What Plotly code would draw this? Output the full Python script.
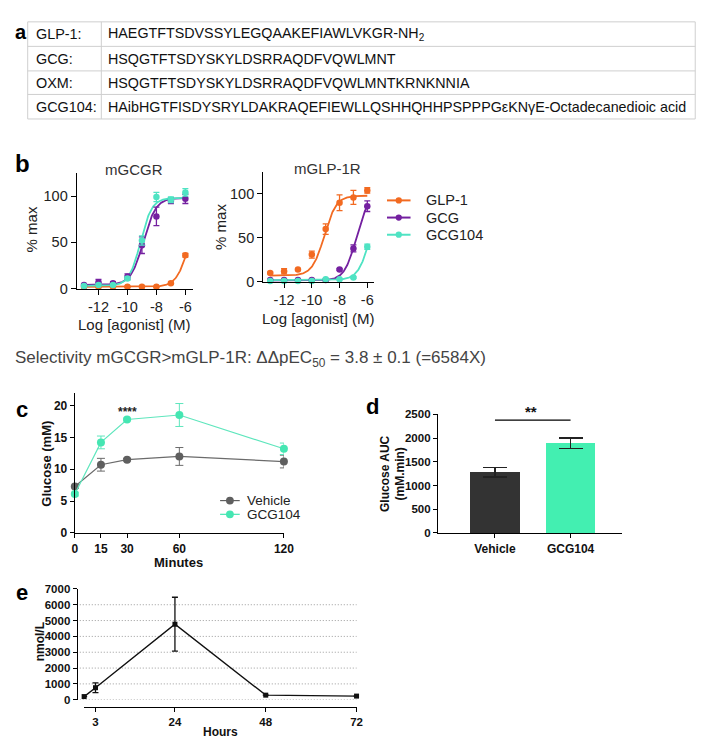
import numpy as np
import plotly.graph_objects as go

W, H = 709, 738
def px(x): return x / W
def py(y): return 1 - y / H

FONT = "Arial, Liberation Sans, sans-serif"

# ---------------- Panel a: peptide table ----------------
peptide_names = ["GLP-1:", "GCG:", "OXM:", "GCG104:"]
peptide_seqs = [
    "HAEGTFTSDVSSYLEGQAAKEFIAWLVKGR-NH<sub>2</sub>",
    "HSQGTFTSDYSKYLDSRRAQDFVQWLMNT",
    "HSQGTFTSDYSKYLDSRRAQDFVQWLMNTKRNKNNIA",
    "HAibHGTFISDYSRYLDAKRAQEFIEWLLQSHHQHHPSPPPGεKNγE-Octadecanedioic acid",
]

# ---------------- Panel b: concentration response ----------------
log_conc = [-13, -12, -11, -10, -9, -8, -7, -6]
b_series = ["GLP-1", "GCG", "GCG104"]
b_colors = ["#F26A21", "#7420A0", "#4FE3C3"]
# mGCGR
gcgr_vals = {
    "GLP-1":  [2, 2, 2, 2, 2, 2, 6, 36],
    "GCG":    [4, 7, 6, 13, 47, 78, 95, 97],
    "GCG104": [3, 4, 4, 11, 52, 99, 96, 104],
}
gcgr_errs = {
    "GLP-1":  [0.5, 0.5, 0.5, 0.5, 0.5, 0.5, 1, 2],
    "GCG":    [1, 3, 1.5, 3, 9, 10, 3, 5],
    "GCG104": [1, 1, 1, 2, 5, 5, 3, 4],
}
# 4PL fit parameters: bottom, top, logEC50, hill
gcgr_fit = {
    "GLP-1":  [2, 100, -5.7, 1.0],
    "GCG":    [4, 98, -8.9, 1.0],
    "GCG104": [3, 98, -9.1, 1.1],
}
# mGLP-1R
glp1r_vals = {
    "GLP-1":  [10, 12, 14, 31, 60, 90, 96, 104],
    "GCG":    [2, 2, 2, 2, 2, 14, 38, 86],
    "GCG104": [1, 1, 1, 1, 3, 3, 5, 40],
}
glp1r_errs = {
    "GLP-1":  [1, 3, 1, 4, 6, 9, 8, 3],
    "GCG":    [0.5, 0.5, 0.5, 0.5, 0.5, 1, 4, 6],
    "GCG104": [0.5, 0.5, 0.5, 0.5, 0.5, 0.5, 1, 3],
}
glp1r_fit = {
    "GLP-1":  [7, 98, -9.1, 1.0],
    "GCG":    [1.5, 100, -6.78, 1.0],
    "GCG104": [2, 100, -5.78, 1.0],
}

# ---------------- Panel c: glucose time course ----------------
c_minutes = [0, 15, 30, 60, 120]
c_series = ["Vehicle", "GCG104"]
c_vehicle = [7.3, 10.7, 11.5, 12.0, 11.2]
c_vehicle_err = [0.3, 1.0, 0.2, 1.4, 1.0]
c_gcg104 = [6.1, 14.2, 17.8, 18.5, 13.2]
c_gcg104_err = [0.3, 1.0, 0.2, 1.8, 0.9]

# ---------------- Panel d: glucose AUC ----------------
d_groups = ["Vehicle", "GCG104"]
d_auc = [1280, 1888]
d_auc_err = [102, 113]
d_sig_level = 2376

# ---------------- Panel e: plasma exposure ----------------
e_hours = [0, 3, 24, 48, 72]
e_conc = [200, 760, 4770, 290, 230]
e_conc_err = [0, 310, 1700, 0, 0]

fig = go.Figure()

def fourpl(p, x):
    b, t, l, h = p
    return b + (t - b) / (1 + 10 ** ((l - x) * h))

xs_fit = np.linspace(log_conc[0], log_conc[-1], 200)

for vals, errs, fits, xa, ya in [
        (gcgr_vals, gcgr_errs, gcgr_fit, "x", "y"),
        (glp1r_vals, glp1r_errs, glp1r_fit, "x2", "y2")]:
    for name, col in zip(b_series, b_colors):
        fig.add_trace(go.Scatter(
            x=xs_fit, y=fourpl(fits[name], xs_fit), mode="lines",
            line=dict(color=col, width=1.8), xaxis=xa, yaxis=ya,
            showlegend=False, cliponaxis=False, hoverinfo="skip"))
    for name, col in zip(b_series, b_colors):
        fig.add_trace(go.Scatter(
            x=log_conc, y=vals[name], mode="markers",
            marker=dict(color=col, size=6.5),
            error_y=dict(type="data", array=errs[name], color=col, thickness=1.3, width=3),
            xaxis=xa, yaxis=ya, showlegend=False, cliponaxis=False))

# panel c
c_colors_line = ["#6b6b6b", "#5fe6bd"]
c_colors_mark = ["#5f5f5f", "#45e6b2"]
for name, vals, errs, cl, cm in zip(c_series, [c_vehicle, c_gcg104], [c_vehicle_err, c_gcg104_err],
                                    c_colors_line, c_colors_mark):
    fig.add_trace(go.Scatter(
        x=c_minutes, y=vals, mode="lines+markers", name=name,
        line=dict(color=cl, width=1.2), marker=dict(color=cm, size=8),
        error_y=dict(type="data", array=errs, color=cl, thickness=1, width=4),
        xaxis="x3", yaxis="y3", showlegend=False, cliponaxis=False))

# panel d
fig.add_trace(go.Bar(
    x=[0, 1], y=d_auc, width=0.65,
    marker=dict(color=["#333333", "#43EFB1"], line=dict(width=0)),
    error_y=dict(type="data", array=d_auc_err, color="#222222", thickness=1.2, width=12),
    xaxis="x4", yaxis="y4", showlegend=False))

# panel e
fig.add_trace(go.Scatter(
    x=e_hours, y=e_conc, mode="lines+markers",
    line=dict(color="#111111", width=1.4),
    marker=dict(symbol="square", color="#111111", size=5),
    error_y=dict(type="data", array=e_conc_err, color="#111111", thickness=1.3, width=3),
    xaxis="x5", yaxis="y5", showlegend=False, cliponaxis=False))

def ax_b(**kw):
    d = dict(showline=True, linecolor="black", linewidth=1.3, ticks="outside",
             ticklen=5, tickwidth=1.3, tickcolor="black", showgrid=False, zeroline=False,
             tickfont=dict(family=FONT, size=14.5, color="#222"))
    d.update(kw)
    return d

def ax_bold(size=11, **kw):
    d = dict(showline=True, linecolor="black", linewidth=1.3, ticks="outside",
             ticklen=4, tickwidth=1.3, tickcolor="black", showgrid=False, zeroline=False,
             tickfont=dict(family=FONT, size=size, color="#111", weight="bold"))
    d.update(kw)
    return d

xt = [-12, -10, -8, -6]
xtt = ["-12", "-10", "-8", "-6"]

shapes = []
ann = []

def text(x, y, t, size=14, bold=False, color="#111", xanchor="center", yanchor="middle", angle=0):
    ann.append(dict(x=px(x), y=py(y), xref="paper", yref="paper", text=t, showarrow=False,
                    xanchor=xanchor, yanchor=yanchor, textangle=angle,
                    font=dict(family=FONT, size=size, color=color, weight="bold" if bold else "normal")))

def legend_item(x0, x1, y, color, r, label, size, lw=2, tx=None):
    shapes.append(dict(type="line", xref="paper", yref="paper", x0=px(x0), x1=px(x1),
                       y0=py(y), y1=py(y), line=dict(color=color, width=lw)))
    cx = (x0 + x1) / 2
    shapes.append(dict(type="circle", xref="paper", yref="paper", x0=px(cx - r), x1=px(cx + r),
                       y0=py(y + r), y1=py(y - r), fillcolor=color, line=dict(color=color, width=0)))
    text(tx if tx is not None else x1 + 8, y, label, size, False, "#222", xanchor="left")

# table
tx0, tx1, tdiv = 17, 697, 92
row_edges = [8, 33, 58, 82, 107]
shapes.append(dict(type="rect", xref="paper", yref="paper", x0=px(tx0), x1=px(tx1),
                   y0=py(row_edges[-1]), y1=py(row_edges[0]),
                   line=dict(color="#cfcfcf", width=1)))
for yy in row_edges[1:-1]:
    shapes.append(dict(type="line", xref="paper", yref="paper", x0=px(tx0), x1=px(tx1),
                       y0=py(yy), y1=py(yy), line=dict(color="#cfcfcf", width=1)))
shapes.append(dict(type="line", xref="paper", yref="paper", x0=px(tdiv), x1=px(tdiv),
                   y0=py(row_edges[-1]), y1=py(row_edges[0]), line=dict(color="#cfcfcf", width=1)))
# significance bar in d
shapes.append(dict(type="line", xref="x4", yref="y4", x0=0, x1=1, y0=d_sig_level, y1=d_sig_level,
                   line=dict(color="black", width=1.3)))
# dotted gridlines in e
for gv in [0, 1000, 2000, 3000, 4000, 5000, 6000]:
    shapes.append(dict(type="line", xref="paper", yref="y5", x0=px(67), x1=px(352),
                       y0=gv, y1=gv, line=dict(color="#9a9a9a", width=1, dash="1px,2px"), layer="below"))

text(2, 18, "a", 20, True, "#000", xanchor="left")
row_centers = [20.5, 45.5, 70, 94.5]
for nm, sq, yc in zip(peptide_names, peptide_seqs, row_centers):
    text(23, yc, nm, 14.4, False, "#111", xanchor="left")
    text(97, yc, sq, 14.3, False, "#111", xanchor="left")

text(2, 152, "b", 24, True, "#000", xanchor="left")
text(125, 158, "mGCGR", 15, False, "#333")
text(322, 157, "mGLP-1R", 15, False, "#333")
text(21, 220, "% max", 15, False, "#222", angle=-90)
text(214, 217, "% max", 15, False, "#222", angle=-90)
text(126, 317, "Log [agonist] (M)", 15, False, "#222")
text(313, 310, "Log [agonist] (M)", 15, False, "#222")
for i, (name, col) in enumerate(zip(b_series, b_colors)):
    legend_item(383, 407, 190 + 17.5 * i, col, 3.2, name, 14.5, lw=2, tx=421)

text(2, 352, "Selectivity mGCGR&gt;mGLP-1R: ΔΔpEC<sub>50</sub> = 3.8 ± 0.1 (=6584X)", 17, False, "#444", xanchor="left")

text(3, 403, "c", 22, True, "#000", xanchor="left")
text(36, 458, "Glucose (mM)", 13, True, "#111", angle=-90)
text(171, 559, "Minutes", 13, True, "#111")
text(119, 406, "****", 12, True, "#222")
for i, (name, cl, cm) in enumerate(zip(c_series, c_colors_line, c_colors_mark)):
    legend_item(213, 233, 496 + 14 * i, cm, 4, name, 13.5, lw=1.2, tx=238)

text(360, 400, "d", 22, True, "#000", xanchor="left")
text(389, 468, "Glucose AUC<br>(mM.min)", 12, True, "#111", angle=-90)
text(530, 405, "**", 15, True, "#111")

text(3, 590, "e", 22, True, "#000", xanchor="left")
text(29, 640, "nmol/L", 12, True, "#111", angle=-90)
text(213, 732, "Hours", 12, True, "#111")

fig.update_layout(
    width=W, height=H, autosize=False,
    margin=dict(l=0, r=0, t=0, b=0),
    paper_bgcolor="white", plot_bgcolor="rgba(0,0,0,0)",
    shapes=shapes, annotations=ann, showlegend=False,
    xaxis=ax_b(domain=[px(67), px(185)], range=[-13.5, -5.5], tickvals=xt, ticktext=xtt, anchor="y"),
    yaxis=ax_b(domain=[py(280), py(162)], range=[0, 125], tickvals=[0, 50, 100], anchor="x"),
    xaxis2=ax_b(domain=[px(257), px(370)], range=[-13.5, -5.5], tickvals=xt, ticktext=xtt, anchor="y2"),
    yaxis2=ax_b(domain=[py(273), py(161)], range=[0, 125], tickvals=[0, 50, 100], anchor="x2"),
    xaxis3=ax_bold(12, domain=[px(65), px(278)], range=[0, 120], tickvals=c_minutes, anchor="y3"),
    yaxis3=ax_bold(12, domain=[py(529), py(386)], range=[0, 22], tickvals=[0, 5, 10, 15, 20], anchor="x3"),
    xaxis4=ax_bold(12, domain=[px(435), px(622)], range=[-0.753, 1.675], tickvals=[0, 1],
                   ticktext=d_groups, anchor="y4"),
    yaxis4=ax_bold(11.5, domain=[py(529), py(408)], range=[0, 2500],
                   tickvals=[0, 500, 1000, 1500, 2000, 2500], anchor="x4"),
    xaxis5=ax_bold(11.5, domain=[px(74.5), px(352)], range=[0, 72], tickvals=[3, 24, 48, 72],
                   anchor="free", position=py(706)),
    yaxis5=ax_bold(11.5, domain=[py(699), py(586)], range=[0, 7000],
                   tickvals=[0, 1000, 2000, 3000, 4000, 5000, 6000, 7000], anchor="free", position=px(67)),
    bargap=0,
)

fig.write_html("out.html")
